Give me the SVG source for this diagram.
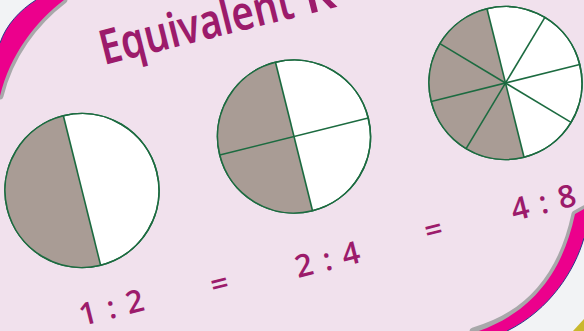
<svg xmlns="http://www.w3.org/2000/svg" width="584" height="331" viewBox="0 0 584 331">
<defs>
<style>
.bg{fill:#f1e1ed}
.corner{fill:#f2f3f5;stroke:#2b3a8c;stroke-width:1}
.band{fill:#ec008c}
.shadow{fill:none;stroke:#a8a8aa;stroke-width:7;stroke-linejoin:round}
.disc{fill:#ffffff;stroke:#1c6b40;stroke-width:1.6}
.half{fill:#a99c95}
.div{stroke:#1c6b40;stroke-width:1.6;fill:none}
.num{font-family:"Open Sans","Noto Sans",sans-serif;font-weight:600;font-size:31px;fill:#9c1b6b;text-anchor:middle;word-spacing:3px}
.title{font-family:"Noto Sans","Open Sans",sans-serif;font-weight:600;font-size:48px;fill:#9c1b6b}
</style>
</defs>
<rect class="bg" x="0" y="0" width="584" height="331"/>

<g id="frame-top-left">
<path class="shadow" d="M36,0 L64,0 C35,22 10,55 0,96 L0,43 C6,25 20,10 36,0 Z"/>
<path class="band" d="M30,-4 L64,0 C35,22 10,55 0,96 L-4,40 Z"/>
<path class="corner" d="M-2,-2 L37,-2 L36,0 C20,10 6,25 0,43 L-2,44 Z"/>
</g>

<g id="frame-bottom-right">
<path class="shadow" d="M575,214 L584,209 L584,238 C575,270 550,310 507,331 L473,331 C520,318 560,285 575,214 Z"/>
<path class="band" d="M575,214 L586,208 L586,238 C575,270 550,310 507,333 L473,333 C520,318 560,285 575,214 Z"/>
<path class="corner" d="M586,236 L584,238 C575,270 550,310 507,331 L505,333 L586,333 Z"/>
<path fill="#c9b82e" d="M573,331 L584,319 L584,331 Z"/>
</g>

<g id="title" transform="translate(104,65) rotate(-14)">
<text class="title" x="0" y="0" textLength="198" lengthAdjust="spacingAndGlyphs">Equivalent</text>
<text class="title" x="210" y="0">R</text>
</g>

<g id="circle-halves" transform="translate(82,190.5) rotate(-14)">
<circle class="disc" cx="0" cy="0" r="77"/>
<path class="half" d="M0,-77 A77,77 0 0 0 0,77 Z"/>
<circle class="disc" cx="0" cy="0" r="77" style="fill:none"/>
<line class="div" x1="0" y1="-77" x2="0" y2="77"/>
</g>

<g id="circle-quarters" transform="translate(294,136.5) rotate(-14)">
<circle class="disc" cx="0" cy="0" r="76.5"/>
<path class="half" d="M0,-76.5 A76.5,76.5 0 0 0 0,76.5 Z"/>
<circle class="disc" cx="0" cy="0" r="76.5" style="fill:none"/>
<line class="div" x1="0" y1="-76.5" x2="0" y2="76.5"/>
<line class="div" x1="-76.5" y1="0" x2="76.5" y2="0"/>
</g>

<g id="circle-eighths" transform="translate(505.5,83) rotate(-14)">
<circle class="disc" cx="0" cy="0" r="76.5"/>
<path class="half" d="M0,-76.5 A76.5,76.5 0 0 0 0,76.5 Z"/>
<circle class="disc" cx="0" cy="0" r="76.5" style="fill:none"/>
<line class="div" x1="0" y1="-76.5" x2="0" y2="76.5"/>
<line class="div" x1="-76.5" y1="0" x2="76.5" y2="0"/>
<line class="div" x1="-54.1" y1="-54.1" x2="54.1" y2="54.1"/>
<line class="div" x1="54.1" y1="-54.1" x2="-54.1" y2="54.1"/>
</g>

<g id="labels">
<text class="num" transform="translate(114,318) rotate(-14)">1 : 2</text>
<text class="num" transform="translate(222,294) rotate(-14)">=</text>
<text class="num" transform="translate(330,270) rotate(-14)">2 : 4</text>
<text class="num" transform="translate(436,240) rotate(-14)">=</text>
<text class="num" transform="translate(546,213) rotate(-14)">4 : 8</text>
</g>
</svg>
